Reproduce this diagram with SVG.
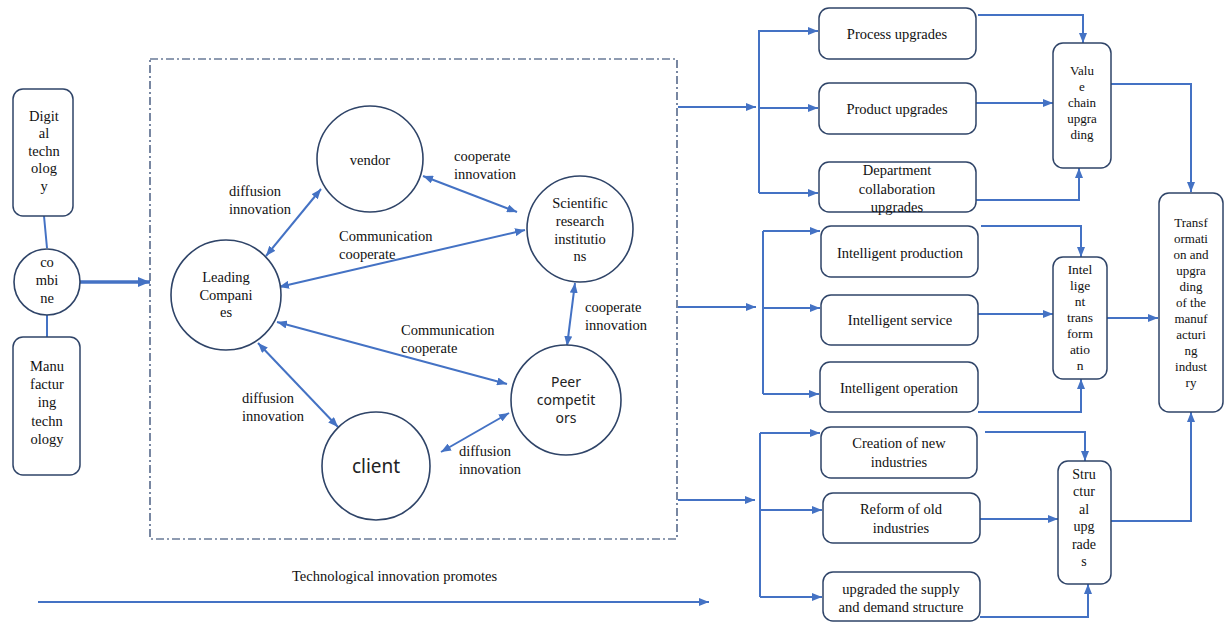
<svg xmlns="http://www.w3.org/2000/svg" width="1226" height="622" viewBox="0 0 1226 622">
<style>
.bx{fill:#fff;stroke:#2F4468;stroke-width:1.5}
.ci{fill:#fff;stroke:#2F4468;stroke-width:1.6}
.t{font-family:"Liberation Serif","Times New Roman",serif;font-size:14.5px;fill:#111;text-anchor:middle}
.tn{font-family:"Liberation Serif","Times New Roman",serif;font-size:13px;fill:#111;text-anchor:middle}
.ts{font-family:"Noto Sans","Open Sans",sans-serif;font-size:14px;fill:#222;text-anchor:middle}
.lb{font-family:"Liberation Serif","Times New Roman",serif;font-size:14.5px;fill:#111}
.c{fill:none;stroke:#4472C4;stroke-width:2}
.a{marker-end:url(#ah)}
.d{marker-start:url(#ah);marker-end:url(#ah)}
</style>
<defs>
<marker id="ah" viewBox="0 0 10 8" refX="10" refY="4" markerWidth="10" markerHeight="8" markerUnits="userSpaceOnUse" orient="auto-start-reverse"><path d="M0,0 L10,4 L0,8 z" fill="#4472C4"/></marker>
<marker id="ahb" viewBox="0 0 12 10" refX="12" refY="5" markerWidth="12" markerHeight="10" markerUnits="userSpaceOnUse" orient="auto"><path d="M0,0 L12,5 L0,10 z" fill="#4472C4"/></marker>
</defs>

<rect id="scope" x="150" y="59" width="527" height="480" fill="none" stroke="#1F3864" stroke-width="1.2" stroke-dasharray="8 3 2 3"/>

<g id="connectors">
<path class="c" d="M44,216 L47,248"/>
<path class="c" d="M47,315 L47,337"/>
<path d="M80,282 L150,282" fill="none" stroke="#4472C4" stroke-width="3.5" marker-end="url(#ahb)"/>

<path class="c d" d="M266,256 L321,189"/>
<path class="c d" d="M423,176 L517,212"/>
<path class="c d" d="M279,287 L525,230"/>
<path class="c d" d="M575,283 L567,346"/>
<path class="c d" d="M277,322 L507,384"/>
<path class="c d" d="M258,343 L338,427"/>
<path class="c d" d="M441,452 L509,413"/>

<path class="c a" d="M678,107 L756,107"/>
<path class="c" d="M759,30 L759,193"/>
<path class="c a" d="M759,31 L818,31"/>
<path class="c a" d="M759,108 L818,108"/>
<path class="c a" d="M759,193 L818,193"/>
<path class="c a" d="M978,15 L1083,15 L1083,43"/>
<path class="c a" d="M976,103 L1053,103"/>
<path class="c a" d="M976,200 L1079,200 L1079,168"/>
<path class="c a" d="M1108,84 L1191,84 L1191,192"/>

<path class="c a" d="M678,307 L756,307"/>
<path class="c" d="M763,231 L763,394"/>
<path class="c a" d="M763,231 L820,231"/>
<path class="c a" d="M763,308 L820,308"/>
<path class="c a" d="M763,394 L819,394"/>
<path class="c a" d="M981,226 L1081,226 L1081,257"/>
<path class="c a" d="M978,314 L1053,314"/>
<path class="c a" d="M978,412 L1081,412 L1081,379"/>
<path class="c a" d="M1107,318 L1158,318"/>

<path class="c a" d="M678,500 L755,500"/>
<path class="c" d="M760,433 L760,597"/>
<path class="c a" d="M760,433 L820,433"/>
<path class="c a" d="M760,510 L822,510"/>
<path class="c a" d="M760,597 L822,597"/>
<path class="c a" d="M985,432 L1085,432 L1085,461"/>
<path class="c a" d="M980,519 L1058,519"/>
<path class="c a" d="M980,617 L1088,617 L1088,584"/>
<path class="c a" d="M1111,521 L1191,521 L1191,412"/>

<path class="c a" d="M38,602 L709,602"/>
</g>

<g id="digital"><rect class="bx" x="13" y="89" width="60" height="127" rx="10"/>
<text class="t"><tspan x="44" y="121">Digit</tspan><tspan x="44" y="138">al</tspan><tspan x="44" y="156">techn</tspan><tspan x="44" y="173">olog</tspan><tspan x="44" y="191">y</tspan></text></g>
<g id="combine"><circle class="ci" cx="47" cy="282" r="33"/>
<text class="t"><tspan x="47" y="267">co</tspan><tspan x="47" y="285">mbi</tspan><tspan x="47" y="303">ne</tspan></text></g>
<g id="manufacturing"><rect class="bx" x="13" y="337" width="67" height="138" rx="10"/>
<text class="t"><tspan x="47" y="371">Manu</tspan><tspan x="47" y="389">factur</tspan><tspan x="47" y="407">ing</tspan><tspan x="47" y="426">techn</tspan><tspan x="47" y="444">ology</tspan></text></g>

<g id="vendor"><circle class="ci" cx="370" cy="159" r="53"/><text class="t" x="370" y="165">vendor</text></g>
<g id="scientific"><circle class="ci" cx="580" cy="229" r="53"/>
<text class="t"><tspan x="580" y="208">Scientific</tspan><tspan x="580" y="226">research</tspan><tspan x="580" y="244">institutio</tspan><tspan x="580" y="261">ns</tspan></text></g>
<g id="leading"><circle class="ci" cx="226" cy="295" r="55"/>
<text class="t"><tspan x="226" y="282">Leading</tspan><tspan x="226" y="300">Compani</tspan><tspan x="226" y="317">es</tspan></text></g>
<g id="peer"><circle class="ci" cx="566" cy="400" r="55"/>
<text class="ts"><tspan x="566" y="387">Peer</tspan><tspan x="566" y="405">competit</tspan><tspan x="566" y="423">ors</tspan></text></g>
<g id="client"><circle class="ci" cx="376" cy="466" r="54"/><text class="ts" x="376" y="473" style="font-size:19px">client</text></g>

<g id="labels">
<text class="lb"><tspan x="229" y="196">diffusion</tspan><tspan x="229" y="214">innovation</tspan></text>
<text class="lb"><tspan x="454" y="161">cooperate</tspan><tspan x="454" y="179">innovation</tspan></text>
<text class="lb"><tspan x="339" y="241">Communication</tspan><tspan x="339" y="259">cooperate</tspan></text>
<text class="lb"><tspan x="585" y="312">cooperate</tspan><tspan x="585" y="330">innovation</tspan></text>
<text class="lb"><tspan x="401" y="335">Communication</tspan><tspan x="401" y="353">cooperate</tspan></text>
<text class="lb"><tspan x="242" y="403">diffusion</tspan><tspan x="242" y="421">innovation</tspan></text>
<text class="lb"><tspan x="459" y="456">diffusion</tspan><tspan x="459" y="474">innovation</tspan></text>
<text class="lb" x="292" y="581">Technological innovation promotes</text>
</g>

<g id="process"><rect class="bx" x="819" y="8" width="157" height="51" rx="10"/><text class="t" x="897" y="39">Process upgrades</text></g>
<g id="product"><rect class="bx" x="819" y="83" width="157" height="51" rx="10"/><text class="t" x="897" y="114">Product upgrades</text></g>
<g id="department"><rect class="bx" x="819" y="162" width="157" height="50" rx="10"/>
<text class="t"><tspan x="897" y="175">Department</tspan><tspan x="897" y="194">collaboration</tspan><tspan x="897" y="212">upgrades</tspan></text></g>
<g id="valuechain"><rect class="bx" x="1053" y="43" width="58" height="125" rx="10"/>
<text class="tn"><tspan x="1082" y="75">Valu</tspan><tspan x="1082" y="91">e</tspan><tspan x="1082" y="107">chain</tspan><tspan x="1082" y="123">upgra</tspan><tspan x="1082" y="139">ding</tspan></text></g>

<g id="intprod"><rect class="bx" x="821" y="226" width="157" height="51" rx="10"/><text class="t" x="900" y="258">Intelligent production</text></g>
<g id="intserv"><rect class="bx" x="821" y="295" width="157" height="50" rx="10"/><text class="t" x="900" y="325">Intelligent service</text></g>
<g id="intop"><rect class="bx" x="820" y="362" width="158" height="50" rx="10"/><text class="t" x="899" y="393">Intelligent operation</text></g>
<g id="inttrans"><rect class="bx" x="1053" y="257" width="54" height="122" rx="10"/>
<text class="tn" style="font-size:13.5px"><tspan x="1080" y="274">Intel</tspan><tspan x="1080" y="290">lige</tspan><tspan x="1080" y="306">nt</tspan><tspan x="1080" y="322">trans</tspan><tspan x="1080" y="338">form</tspan><tspan x="1080" y="354">atio</tspan><tspan x="1080" y="370">n</tspan></text></g>

<g id="creation"><rect class="bx" x="821" y="427" width="156" height="51" rx="10"/>
<text class="t"><tspan x="899" y="448">Creation of new</tspan><tspan x="899" y="467">industries</tspan></text></g>
<g id="reform"><rect class="bx" x="823" y="493" width="157" height="50" rx="10"/>
<text class="t"><tspan x="901" y="514">Reform of old</tspan><tspan x="901" y="533">industries</tspan></text></g>
<g id="supply"><rect class="bx" x="823" y="572" width="157" height="49" rx="10"/>
<text class="t"><tspan x="901" y="594">upgraded the supply</tspan><tspan x="901" y="612">and demand structure</tspan></text></g>
<g id="structural"><rect class="bx" x="1058" y="461" width="53" height="123" rx="10"/>
<text class="t" style="font-size:14px"><tspan x="1084" y="479">Stru</tspan><tspan x="1084" y="496">ctur</tspan><tspan x="1084" y="514">al</tspan><tspan x="1084" y="531">upg</tspan><tspan x="1084" y="549">rade</tspan><tspan x="1084" y="566">s</tspan></text></g>

<g id="transformation"><rect class="bx" x="1159" y="193" width="64" height="219" rx="10"/>
<text class="tn"><tspan x="1191" y="227">Transf</tspan><tspan x="1191" y="243">ormati</tspan><tspan x="1191" y="259">on and</tspan><tspan x="1191" y="275">upgra</tspan><tspan x="1191" y="291">ding</tspan><tspan x="1191" y="307">of the</tspan><tspan x="1191" y="323">manuf</tspan><tspan x="1191" y="339">acturi</tspan><tspan x="1191" y="355">ng</tspan><tspan x="1191" y="371">indust</tspan><tspan x="1191" y="387">ry</tspan></text></g>
</svg>
